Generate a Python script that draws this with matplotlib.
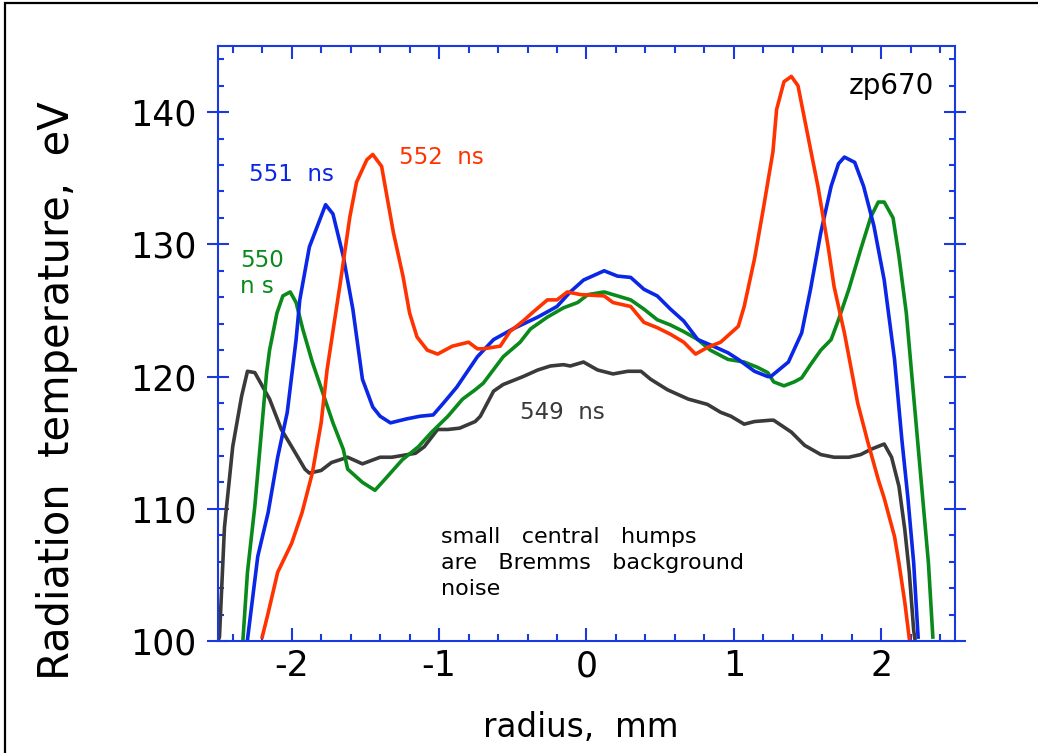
import numpy as np
import matplotlib
matplotlib.use("Agg")
import matplotlib.pyplot as plt
from matplotlib.patches import Rectangle
from matplotlib.ticker import MultipleLocator

plt.rcParams['font.family'] = 'DejaVu Sans'
plt.rcParams['axes.unicode_minus'] = False

# radiation temperature profiles (radius in mm, temperature in eV)
r_549 = [-2.50, -2.49, -2.456, -2.40, -2.34, -2.30, -2.25, -2.15, -2.07, -2.00, -1.91, -1.88,
         -1.80, -1.73, -1.62, -1.52, -1.40, -1.32, -1.16, -1.10, -1.01, -0.94, -0.86, -0.755,
         -0.72, -0.63, -0.565, -0.43, -0.33, -0.245, -0.156, -0.11, -0.02, 0.075, 0.18, 0.28,
         0.37, 0.435, 0.55, 0.69, 0.82, 0.91, 0.98, 1.07, 1.14, 1.25, 1.27, 1.39, 1.48, 1.59,
         1.68, 1.78, 1.86, 1.93, 2.02, 2.07, 2.12, 2.16, 2.19, 2.22, 2.23]
t_549 = [100.0, 100.3, 108.6, 114.7, 118.5, 120.4, 120.3, 118.3, 116.0, 114.7, 113.0, 112.7,
         112.9, 113.5, 113.9, 113.4, 113.9, 113.9, 114.2, 114.7, 116.0, 116.0, 116.1, 116.6,
         117.0, 118.9, 119.4, 120.0, 120.5, 120.8, 120.9, 120.8, 121.1, 120.5, 120.2, 120.4,
         120.4, 119.8, 119.0, 118.3, 117.9, 117.3, 117.0, 116.4, 116.6, 116.7, 116.7, 115.8,
         114.8, 114.1, 113.9, 113.9, 114.1, 114.5, 114.9, 113.9, 111.7, 108.4, 105.2, 100.8,
         100.0]

r_550 = [-2.33, -2.30, -2.25, -2.20, -2.17, -2.15, -2.10, -2.06, -2.01, -1.97, -1.925, -1.86,
         -1.79, -1.72, -1.65, -1.62, -1.52, -1.435, -1.37, -1.25, -1.14, -1.05, -0.94, -0.84,
         -0.755, -0.70, -0.565, -0.45, -0.38, -0.265, -0.156, -0.06, 0.01, 0.12, 0.18, 0.30,
         0.39, 0.48, 0.57, 0.66, 0.755, 0.84, 0.96, 1.07, 1.16, 1.23, 1.27, 1.34, 1.41, 1.46,
         1.52, 1.59, 1.66, 1.71, 1.78, 1.86, 1.93, 1.98, 2.02, 2.08, 2.12, 2.17, 2.22, 2.27,
         2.32, 2.35]
t_550 = [100.2, 105.2, 110.2, 116.5, 120.3, 122.0, 124.8, 126.1, 126.4, 125.6, 123.6, 121.1,
         118.8, 116.5, 114.5, 113.0, 112.0, 111.4, 112.2, 113.7, 114.7, 115.8, 117.0, 118.3,
         119.0, 119.5, 121.5, 122.6, 123.6, 124.5, 125.2, 125.6, 126.2, 126.4, 126.2, 125.8,
         125.1, 124.3, 123.9, 123.4, 122.8, 122.0, 121.3, 121.1, 120.7, 120.3, 119.6, 119.3,
         119.6, 119.9, 120.9, 122.0, 122.8, 124.3, 126.6, 129.6, 132.1, 133.2, 133.2, 132.0,
         129.1, 124.8, 118.5, 112.2, 105.9, 100.3]

r_551 = [-2.30, -2.23, -2.16, -2.095, -2.03, -1.97, -1.945, -1.88, -1.77, -1.72, -1.65, -1.585,
         -1.52, -1.45, -1.40, -1.33, -1.22, -1.13, -1.04, -0.97, -0.88, -0.74, -0.63, -0.50,
         -0.33, -0.20, -0.11, -0.02, 0.12, 0.21, 0.30, 0.39, 0.48, 0.57, 0.66, 0.755, 0.84,
         0.96, 1.03, 1.14, 1.23, 1.25, 1.37, 1.46, 1.52, 1.59, 1.66, 1.71, 1.75, 1.82, 1.88,
         1.95, 2.02, 2.09, 2.14, 2.18, 2.22, 2.25]
t_551 = [100.1, 106.4, 109.7, 113.9, 117.3, 122.8, 125.8, 129.8, 133.0, 132.3, 129.1, 125.1,
         119.8, 117.7, 117.0, 116.5, 116.8, 117.0, 117.1, 118.0, 119.2, 121.5, 122.8, 123.6,
         124.5, 125.3, 126.4, 127.3, 128.0, 127.6, 127.5, 126.6, 126.1, 125.1, 124.2, 122.8,
         122.4, 121.8, 121.3, 120.4, 120.0, 120.0, 121.1, 123.3, 126.6, 130.9, 134.4, 136.1,
         136.6, 136.2, 134.4, 131.4, 127.3, 121.3, 115.2, 110.9, 105.9, 100.3]

r_552 = [-2.20, -2.16, -2.095, -2.00, -1.93, -1.86, -1.80, -1.76, -1.67, -1.605, -1.56, -1.49,
         -1.45, -1.39, -1.31, -1.245, -1.20, -1.15, -1.08, -1.01, -0.91, -0.80, -0.74, -0.70,
         -0.585, -0.52, -0.43, -0.36, -0.265, -0.20, -0.13, -0.04, 0.12, 0.18, 0.30, 0.39,
         0.48, 0.57, 0.66, 0.74, 0.82, 0.91, 0.98, 1.03, 1.07, 1.14, 1.20, 1.265, 1.29, 1.34,
         1.39, 1.435, 1.52, 1.57, 1.64, 1.68, 1.75, 1.84, 1.91, 1.98, 2.02, 2.09, 2.12, 2.16,
         2.19]
t_552 = [100.3, 102.1, 105.2, 107.4, 109.7, 112.7, 116.5, 120.5, 127.1, 132.1, 134.7, 136.4,
         136.8, 135.9, 130.9, 127.6, 124.8, 123.0, 122.0, 121.7, 122.3, 122.6, 122.1, 122.1,
         122.3, 123.4, 124.2, 124.9, 125.8, 125.8, 126.4, 126.2, 126.1, 125.6, 125.3, 124.1,
         123.7, 123.2, 122.6, 121.7, 122.2, 122.6, 123.3, 123.8, 125.3, 128.9, 132.7, 137.0,
         140.2, 142.3, 142.7, 142.0, 137.2, 134.4, 129.8, 126.8, 123.3, 118.0, 115.0, 112.2,
         110.8, 107.9, 105.9, 102.9, 100.2]

xticks = [-2, -1, 0, 1, 2]
yticks = [100, 110, 120, 130, 140]

c_red = '#ff3300'
c_blue = '#0a26e6'
c_green = '#0a8a1a'
c_dark = '#3a3a3a'
c_axis = '#1a3ae0'

fig = plt.figure(figsize=(10.38, 7.53), dpi=100)
ax = fig.add_axes([0.210, 0.1487, 0.710, 0.7902])

# frame around the whole page
fig.patches.append(Rectangle((5 / 1038, -0.2), 1.5, 1.2 - 3 / 753, transform=fig.transFigure,
                             fill=False, edgecolor='black', linewidth=1.6, zorder=0))

lw = 2.6
ax.plot(r_549, t_549, color=c_dark, lw=lw)
ax.plot(r_550, t_550, color=c_green, lw=lw)
ax.plot(r_551, t_551, color=c_blue, lw=lw)
ax.plot(r_552, t_552, color=c_red, lw=lw)

ax.set_xlim(-2.5, 2.5)
ax.set_ylim(100, 145)
ax.set_xticks(xticks)
ax.set_xticklabels([str(v) for v in xticks])
ax.set_yticks(yticks)
ax.set_yticklabels([str(v) for v in yticks])
ax.xaxis.set_minor_locator(MultipleLocator(0.2))
ax.yaxis.set_minor_locator(MultipleLocator(2))

for s in ax.spines.values():
    s.set_color(c_axis)
    s.set_linewidth(1.5)

ax.tick_params(which='both', top=True, right=True, color=c_axis, width=1.5)
ax.tick_params(axis='x', which='major', direction='in', length=9.5, pad=6, labelsize=25)
ax.tick_params(axis='x', which='minor', direction='in', length=5)
ax.tick_params(axis='y', which='major', direction='inout', length=16.5, pad=7, labelsize=25)
ax.tick_params(axis='y', which='minor', direction='in', length=4.5)

ax.set_xlabel('radius,  mm', fontsize=23.5, va='center')
ax.xaxis.set_label_coords(0.4925, -0.146)
ax.set_ylabel('Radiation  temperature,  eV', fontsize=30, va='center')
ax.yaxis.set_label_coords(-0.218, 0.42)

ax.text(-2.29, 135.3, '551  ns', color=c_blue, fontsize=16.5, va='center', ha='left')
ax.text(-1.27, 136.6, '552  ns', color=c_red, fontsize=16.5, va='center', ha='left')
ax.text(-2.35, 127.8, '550\nn s', color=c_green, fontsize=16.5, va='center', ha='left',
        linespacing=1.15)
ax.text(-0.45, 117.3, '549  ns', color=c_dark, fontsize=16.5, va='center', ha='left')
ax.text(2.36, 142.0, 'zp670', color='black', fontsize=20, va='center', ha='right')
ax.text(-0.99, 105.9, 'small   central   humps\nare   Bremms   background\nnoise',
        color='black', fontsize=16, va='center', ha='left', linespacing=1.36)

fig.savefig('out.png', dpi=100)
